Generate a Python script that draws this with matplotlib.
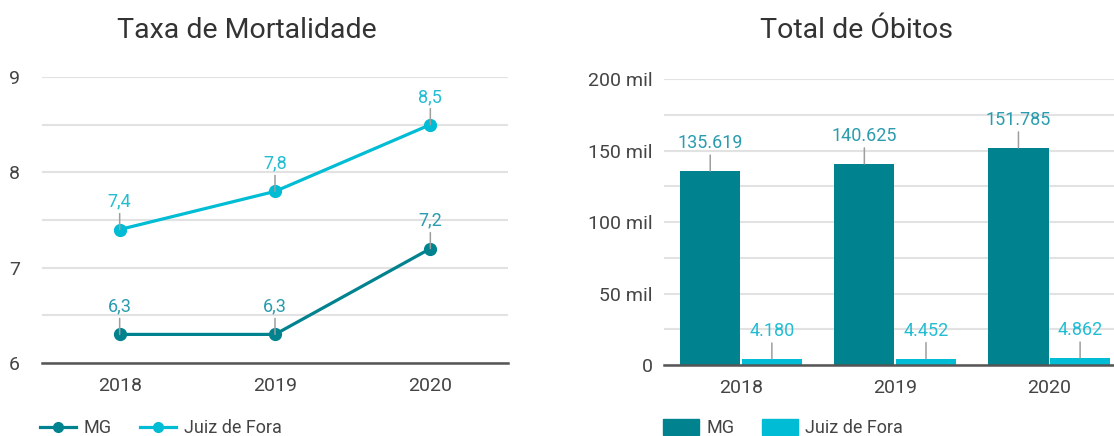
import matplotlib
matplotlib.use("Agg")
import matplotlib.pyplot as plt
from matplotlib.patches import Patch
from matplotlib.lines import Line2D

plt.rcParams["font.family"] = ["Roboto", "DejaVu Sans"]

years = ["2018", "2019", "2020"]

# taxa de mortalidade (por mil habitantes)
taxa_mg = [6.3, 6.3, 7.2]
taxa_jf = [7.4, 7.8, 8.5]

# total de óbitos
obitos_mg = [135619, 140625, 151785]
obitos_jf = [4180, 4452, 4862]

C_MG = "#00838f"
C_JF = "#00bcd4"
C_MG_LBL = "#2a9cae"
C_JF_LBL = "#22bdd3"
C_GRID = "#e2e2e2"
C_TXT = "#444444"
C_LEADER = "#9e9e9e"


def fmt_br(v, dec=0):
    s = f"{v:,.{dec}f}"
    return s.replace(",", "X").replace(".", ",").replace("X", ".")


def leader_label(ax, x, y, text, color):
    ax.annotate(text, xy=(x, y), xytext=(0, 20), textcoords="offset points",
                ha="center", va="center", fontsize=13, color=color,
                arrowprops=dict(arrowstyle="-", color=C_LEADER, lw=1.1,
                                shrinkA=0, shrinkB=0, relpos=(0.5, 0.0)),
                zorder=5)


def style_axis(ax):
    for side in ("top", "right", "left"):
        ax.spines[side].set_visible(False)
    ax.spines["bottom"].set_color("#555555")
    ax.spines["bottom"].set_linewidth(1.8)
    ax.tick_params(axis="both", length=0, labelsize=14, labelcolor=C_TXT)
    ax.tick_params(axis="x", pad=10)
    ax.set_axisbelow(True)


fig = plt.figure(figsize=(11.14, 4.36), dpi=100)
W, H = 1114, 436

# ── left: line chart ──
ax1 = fig.add_axes([42 / W, (H - 363) / H, (508 - 42) / W, (363 - 77) / H])
x = range(len(years))
ax1.plot(x, taxa_mg, color=C_MG, lw=2.3, marker="o", ms=8.5, zorder=3)
ax1.plot(x, taxa_jf, color=C_JF, lw=2.3, marker="o", ms=8.5, zorder=3)
ax1.set_xlim(-0.5, 2.5)
ax1.set_ylim(6, 9)
ax1.set_yticks([6, 6.5, 7, 7.5, 8, 8.5, 9])
ax1.set_yticklabels(["6", "", "7", "", "8", "", "9"])
ax1.set_xticks(list(x))
ax1.set_xticklabels(years)
ax1.yaxis.grid(True, color=C_GRID, lw=1.5)
style_axis(ax1)
ax1.tick_params(axis="y", pad=16)
for i in x:
    leader_label(ax1, i, taxa_mg[i], fmt_br(taxa_mg[i], 1), C_MG_LBL)
    leader_label(ax1, i, taxa_jf[i], fmt_br(taxa_jf[i], 1), C_JF_LBL)

fig.text(247 / W, 1 - 30 / H, "Taxa de Mortalidade", ha="center", va="center",
         fontsize=20.5, color="#333333")

leg1 = [Line2D([0], [0], color=C_MG, lw=2.3, marker="o", ms=7),
        Line2D([0], [0], color=C_JF, lw=2.3, marker="o", ms=7)]
fig.legend(leg1, ["MG", "Juiz de Fora"], loc="center left",
           bbox_to_anchor=(40 / W, 1 - 428 / H), ncol=2, frameon=False,
           fontsize=13, labelcolor=C_TXT, handlelength=2.0, handletextpad=0.4,
           columnspacing=1.6, borderpad=0, borderaxespad=0)

# ── right: bar chart ──
ax2 = fig.add_axes([664 / W, (H - 365) / H, (1114 - 664) / W, (365 - 79) / H])
xb = range(len(years))
bw = 0.39
ax2.bar([i - 0.2 for i in xb], obitos_mg, width=bw, color=C_MG, zorder=2)
ax2.bar([i + 0.2 for i in xb], obitos_jf, width=bw, color=C_JF, zorder=2)
ax2.set_xlim(-0.5, 2.42)
ax2.set_ylim(0, 200000)
ax2.set_yticks(range(0, 200001, 25000))
ax2.set_yticklabels([("0" if v == 0 else f"{v // 1000} mil") if v % 50000 == 0 else ""
                     for v in range(0, 200001, 25000)])
ax2.set_xticks(list(xb))
ax2.set_xticklabels(years)
ax2.yaxis.grid(True, color=C_GRID, lw=1.5)
style_axis(ax2)
ax2.tick_params(axis="y", pad=8)
for i in xb:
    leader_label(ax2, i - 0.2, obitos_mg[i], fmt_br(obitos_mg[i]), C_MG_LBL)
    leader_label(ax2, i + 0.2, obitos_jf[i], fmt_br(obitos_jf[i]), C_JF_LBL)

fig.text(856 / W, 1 - 30 / H, "Total de Óbitos", ha="center", va="center",
         fontsize=20.5, color="#333333")

leg2 = [Patch(color=C_MG), Patch(color=C_JF)]
fig.legend(leg2, ["MG", "Juiz de Fora"], loc="center left",
           bbox_to_anchor=(663 / W, 1 - 428 / H), ncol=2, frameon=False,
           fontsize=13, labelcolor=C_TXT, handlelength=2.0, handleheight=1.0,
           handletextpad=0.4, columnspacing=1.5, borderpad=0, borderaxespad=0)

fig.savefig("out.png", dpi=100)
